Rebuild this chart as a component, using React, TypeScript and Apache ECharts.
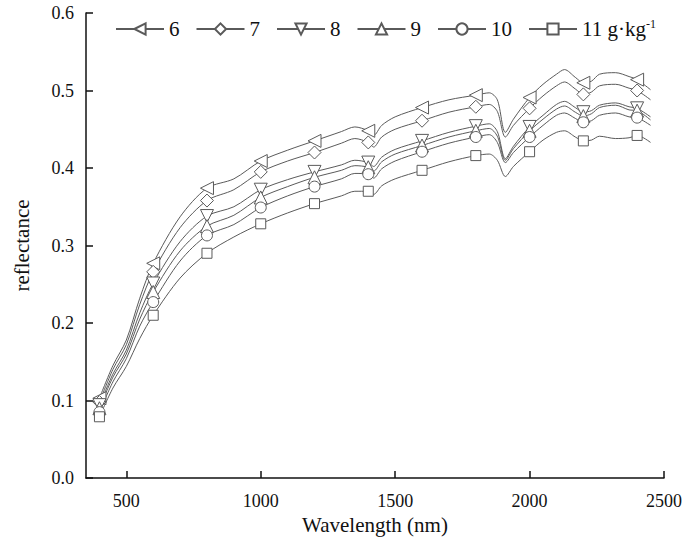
import React, { useEffect, useRef } from "react";
import * as echarts from "echarts";

const wavelengths = [400, 450, 500, 550, 600, 700, 800, 900, 1000, 1100, 1200, 1300, 1350, 1400, 1420, 1450, 1500, 1600, 1700, 1800, 1850, 1880, 1910, 1940, 2000, 2050, 2100, 2130, 2170, 2200, 2230, 2260, 2320, 2370, 2400, 2450];
const markerWavelengths = [400, 600, 800, 1000, 1200, 1400, 1600, 1800, 2000, 2200, 2400];

const seriesNames = ["6", "7", "8", "9", "10", "11"];
const r6 = [0.103, 0.145, 0.178, 0.232, 0.277, 0.337, 0.374, 0.386, 0.409, 0.423, 0.435, 0.447, 0.453, 0.448, 0.442, 0.455, 0.466, 0.478, 0.488, 0.494, 0.497, 0.488, 0.446, 0.463, 0.491, 0.508, 0.521, 0.527, 0.517, 0.510, 0.512, 0.521, 0.523, 0.518, 0.514, 0.501];
const r7 = [0.098, 0.140, 0.172, 0.224, 0.266, 0.323, 0.358, 0.372, 0.395, 0.409, 0.420, 0.432, 0.438, 0.433, 0.427, 0.440, 0.450, 0.461, 0.472, 0.479, 0.482, 0.473, 0.440, 0.455, 0.477, 0.493, 0.506, 0.511, 0.502, 0.495, 0.498, 0.506, 0.508, 0.503, 0.500, 0.488];
const r8 = [0.094, 0.134, 0.165, 0.213, 0.251, 0.305, 0.338, 0.350, 0.372, 0.385, 0.395, 0.404, 0.410, 0.407, 0.402, 0.414, 0.424, 0.435, 0.446, 0.454, 0.457, 0.447, 0.412, 0.428, 0.453, 0.468, 0.482, 0.486, 0.478, 0.472, 0.474, 0.481, 0.484, 0.479, 0.477, 0.466];
const r9 = [0.090, 0.130, 0.160, 0.205, 0.240, 0.293, 0.325, 0.339, 0.362, 0.376, 0.388, 0.397, 0.403, 0.401, 0.396, 0.408, 0.418, 0.429, 0.440, 0.448, 0.451, 0.441, 0.410, 0.425, 0.448, 0.463, 0.476, 0.480, 0.472, 0.467, 0.470, 0.478, 0.481, 0.475, 0.474, 0.462];
const r10 = [0.085, 0.124, 0.154, 0.196, 0.227, 0.280, 0.313, 0.327, 0.349, 0.364, 0.376, 0.386, 0.393, 0.392, 0.387, 0.399, 0.409, 0.421, 0.432, 0.440, 0.443, 0.433, 0.407, 0.420, 0.440, 0.455, 0.468, 0.471, 0.464, 0.459, 0.461, 0.468, 0.471, 0.466, 0.465, 0.455];
const r11 = [0.079, 0.116, 0.144, 0.180, 0.210, 0.258, 0.290, 0.311, 0.328, 0.342, 0.354, 0.364, 0.370, 0.370, 0.366, 0.377, 0.386, 0.397, 0.408, 0.416, 0.418, 0.410, 0.389, 0.402, 0.421, 0.436, 0.446, 0.448, 0.440, 0.435, 0.436, 0.441, 0.438, 0.439, 0.442, 0.433];
const seriesValues = [r6, r7, r8, r9, r10, r11];

const symbols = ["triangle", "diamond", "triangle", "triangle", "circle", "rect"];
const symbolRotates = [90, 0, 180, 0, 0, 0];
const symbolSizes = [13, 13, 13, 13, 11, 10];

const FONT = "Liberation Serif";
const LINE = "#5a5a5a";

export default function App() {
  const ref = useRef<HTMLDivElement>(null);
  useEffect(() => {
    if (!ref.current) return;
    const chart = echarts.init(ref.current, undefined, { renderer: "svg" });
    const series = seriesNames.map((name, i) => ({
      name,
      type: "line",
      smooth: 0.3,
      symbol: symbols[i],
      symbolRotate: symbolRotates[i],
      symbolSize: symbolSizes[i],
      showAllSymbol: true,
      lineStyle: { color: LINE, width: 1 },
      itemStyle: { color: "#ffffff", borderColor: LINE, borderWidth: 1 },
      data: wavelengths.map((w, j) =>
        markerWavelengths.includes(w)
          ? { value: [w, seriesValues[i][j]] }
          : { value: [w, seriesValues[i][j]], symbol: "none" }
      ),
    }));
    chart.setOption({
      animation: false,
      backgroundColor: "#ffffff",
      textStyle: { fontFamily: FONT },
      legend: {
        left: 110,
        top: 13,
        itemWidth: 48,
        itemHeight: 14,
        itemGap: 16,
        textStyle: {
          fontFamily: FONT,
          fontSize: 21,
          color: "#111",
          rich: {
            sup: { fontFamily: FONT, fontSize: 12, color: "#111", verticalAlign: "top", padding: [0, 0, 10, 0] },
          },
        },
        formatter: (name: string) => (name === "11" ? "11 g·kg{sup|-1}" : name),
      },
      grid: { left: 86, right: 21, top: 13, bottom: 70 },
      xAxis: {
        type: "value",
        min: 350,
        max: 2500,
        splitNumber: 5,
        name: "Wavelength (nm)",
        nameLocation: "middle",
        nameGap: 35,
        nameTextStyle: { fontFamily: FONT, fontSize: 21, color: "#111" },
        axisLine: { show: true, lineStyle: { color: "#111", width: 1.5 } },
        axisTick: { show: true, inside: true, length: 7, lineStyle: { color: "#111", width: 1.5 } },
        axisLabel: {
          showMinLabel: false,
          fontFamily: FONT,
          fontSize: 18,
          color: "#111",
          margin: 14,
          formatter: (v: number) => String(v),
        },
        splitLine: { show: false },
      },
      yAxis: {
        type: "value",
        min: 0,
        max: 0.6,
        interval: 0.1,
        name: "reflectance",
        nameLocation: "middle",
        nameGap: 54,
        nameTextStyle: { fontFamily: FONT, fontSize: 21, color: "#111" },
        axisLine: { show: true, lineStyle: { color: "#111", width: 1.5 } },
        axisTick: { show: true, inside: true, length: 7, lineStyle: { color: "#111", width: 1.5 } },
        axisLabel: { fontFamily: FONT, fontSize: 18, color: "#111", margin: 12, formatter: (v: number) => v.toFixed(1) },
        splitLine: { show: false },
      },
      series,
    });
    return () => chart.dispose();
  }, []);
  return <div ref={ref} style={{ position: "absolute", left: 0, top: 0, width: 685, height: 548 }} />;
}
